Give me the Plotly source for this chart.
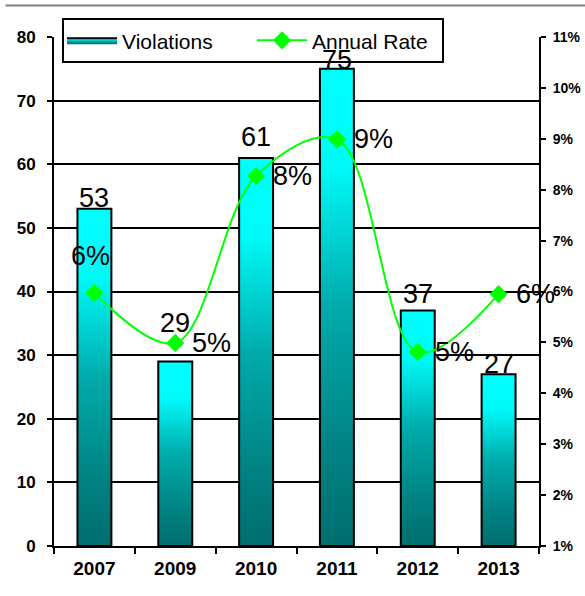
import plotly.graph_objects as go

# data
years = ["2007", "2009", "2010", "2011", "2012", "2013"]
violations = [53, 29, 61, 75, 37, 27]
annual_rate = [5.97, 4.99, 8.27, 8.99, 4.81, 5.95]   # percent
rate_labels = ["6%", "5%", "8%", "9%", "5%", "6%"]
left_ticks = [0, 10, 20, 30, 40, 50, 60, 70, 80]
right_ticks = [1, 2, 3, 4, 5, 6, 7, 8, 9, 10, 11]

FONT = "Liberation Sans, Arial, sans-serif"
teal_scale = [[0, "#006e6e"], [0.2, "#008282"], [0.5, "#00abab"],
              [0.8, "#00fafa"], [1, "#00ffff"]]
bar_w = 0.42
idx = list(range(len(years)))
# hand placed label offsets (px), the source chart nudged some labels
bar_label_shift = [-6, 21, 4, -8, 0, -7]

fig = go.Figure()

# bars drawn as filled shapes so they can carry a vertical gradient
for i, v in zip(idx, violations):
    fig.add_trace(go.Scatter(
        x=[i - bar_w / 2, i - bar_w / 2, i + bar_w / 2, i + bar_w / 2, i - bar_w / 2],
        y=[0, v, v, 0, 0],
        xaxis="x", yaxis="y",
        mode="lines", fill="toself",
        line=dict(color="black", width=2),
        fillgradient=dict(type="vertical", colorscale=teal_scale, start=0, stop=v),
        name="Violations", legendgroup="viol", showlegend=(i == 0),
        hoverinfo="skip"))

fig.add_trace(go.Scatter(
    x=years, y=annual_rate, xaxis="x2", yaxis="y2",
    mode="lines+markers", name="Annual Rate",
    line=dict(color="#00ff00", width=2, shape="spline"),
    marker=dict(symbol="diamond", size=14, color="#00ff00")))

label_font = dict(family=FONT, size=27, color="black")
annotations = []
for i, v, dy in zip(idx, violations, bar_label_shift):
    annotations.append(dict(x=i, y=v, xref="x", yref="y", text=str(v),
                            showarrow=False, xanchor="center", yanchor="bottom",
                            yshift=dy, font=label_font))
for i, r, t in zip(idx, annual_rate, rate_labels):
    if i == 0:
        annotations.append(dict(x=i, y=r, xref="x", yref="y2", text=t,
                                showarrow=False, xanchor="center", yanchor="bottom",
                                xshift=-4, yshift=20, font=label_font))
    else:
        annotations.append(dict(x=i, y=r, xref="x", yref="y2", text=t,
                                showarrow=False, xanchor="left", yanchor="middle",
                                xshift=15, font=label_font))

fig.update_layout(
    width=585, height=596,
    margin=dict(l=54, r=46, t=37, b=50, autoexpand=False),
    paper_bgcolor="white", plot_bgcolor="white",
    font=dict(family=FONT, color="black"),
    xaxis=dict(range=[-0.5, 5.5], visible=False, automargin=False),
    xaxis2=dict(overlaying="x", anchor="y", side="bottom", automargin=False,
                type="category", categoryorder="array", categoryarray=years,
                range=[-0.5, 5.5], tickson="boundaries",
                ticks="outside", ticklen=6, tickwidth=2, tickcolor="black",
                ticklabelstandoff=4,
                showline=True, linecolor="black", linewidth=2,
                showgrid=False, tickfont=dict(family=FONT, size=19, color="black", weight="bold")),
    yaxis=dict(range=[0, 80], tickvals=left_ticks, anchor="x", automargin=False,
               showgrid=True, gridcolor="black", gridwidth=1.5,
               ticks="outside", ticklen=5, tickwidth=2, tickcolor="black",
               ticklabelstandoff=8,
               showline=True, linecolor="black", linewidth=2,
               zeroline=False, tickfont=dict(family=FONT, size=17, color="black", weight="bold")),
    yaxis2=dict(overlaying="y", side="right", anchor="x2", range=[1, 11], automargin=False,
                tickvals=right_ticks, ticktext=[f"{t}%" for t in right_ticks],
                showgrid=False, zeroline=False,
                ticks="outside", ticklen=5, tickwidth=2, tickcolor="black",
                ticklabelstandoff=4,
                showline=True, linecolor="black", linewidth=2,
                tickfont=dict(family=FONT, size=14, color="black", weight="bold")),
    legend=dict(orientation="h", x=0.0165, y=1.037, xanchor="left", yanchor="top",
                bgcolor="white", bordercolor="black", borderwidth=2,
                font=dict(family=FONT, size=21, color="black"),
                itemwidth=50, entrywidth=125),
    annotations=annotations,
    shapes=[dict(type="line", xref="paper", yref="paper",
                 x0=-0.1, x1=1.1, y0=1.062, y1=1.062,
                 line=dict(color="#808080", width=2))],
    showlegend=True,
)

# page body has a default 8px margin; drop it so the chart sits at the window corner
fig.write_html("out.html", config={"displayModeBar": False},
               post_script="document.body.style.margin='0';")
